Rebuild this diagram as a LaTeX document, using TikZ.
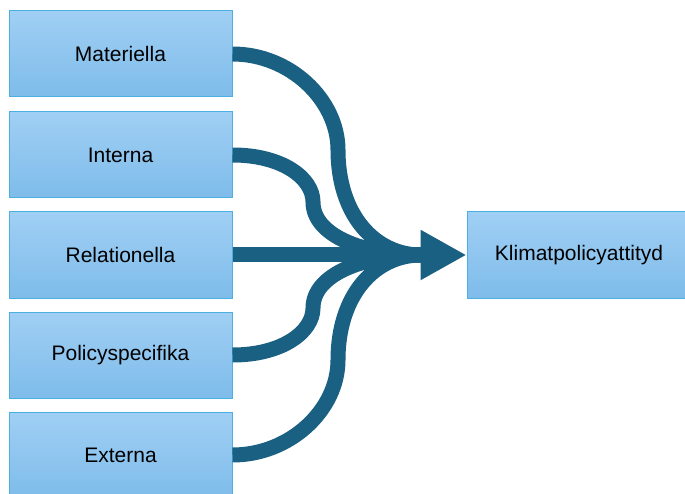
\documentclass[tikz,border=0pt]{standalone}
\usepackage{fontspec}
\setmainfont{Liberation Sans}
\usepackage{tikz}
\usetikzlibrary{arrows.meta}

\definecolor{boxtop}{HTML}{A0CFF4}
\definecolor{boxbot}{HTML}{7EBCEA}
\definecolor{boxline}{HTML}{4DAEE0}
\definecolor{flowcol}{HTML}{1A6082}

\tikzset{
    factor/.style={draw=boxline, line width=1pt, top color=boxtop, bottom color=boxbot,
        minimum width=223pt, minimum height=86pt, inner sep=0pt,
        font=\fontsize{21}{25}\selectfont},
    flow/.style={draw=flowcol, line width=15pt}
}

\begin{document}
\begin{tikzpicture}[x=1pt, y=-1pt]
    \useasboundingbox (0,0) rectangle (685,494);
    \clip (0,0) rectangle (685,494);

    \node[factor] (mat) at (120.5,54) {Materiella};
    \node[factor] (intern) at (120.5,155) {Interna};
    \node[factor] (rel) at (120.5,255) {Relationella};
    \node[factor] (pol) at (120.5,355) {Policyspecifika};
    \node[factor] (ext) at (120.5,455) {Externa};

    \node[factor, minimum width=240pt] (klim) at (587,255) {\hspace*{-16pt}Klimatpolicyattityd};

    \coordinate (merge) at (421,255);

    % in- och utflöden
    \draw[flow] (mat.east) .. controls (290,54) and (338,100) .. (338,150)
        .. controls (338,215) and (375,255) .. (merge);
    \draw[flow] (intern.east) .. controls (282,155) and (313,178) .. (313,202)
        .. controls (313,235) and (362,255) .. (merge);
    \draw[flow] (pol.east) .. controls (282,355) and (313,332) .. (313,308)
        .. controls (313,275) and (362,255) .. (merge);
    \draw[flow] (ext.east) .. controls (290,455) and (338,410) .. (338,360)
        .. controls (338,295) and (375,255) .. (merge);
    \draw[flow, -{Triangle[length=46pt, width=47pt]}] (rel.east) -- (klim.west);
\end{tikzpicture}
\end{document}
